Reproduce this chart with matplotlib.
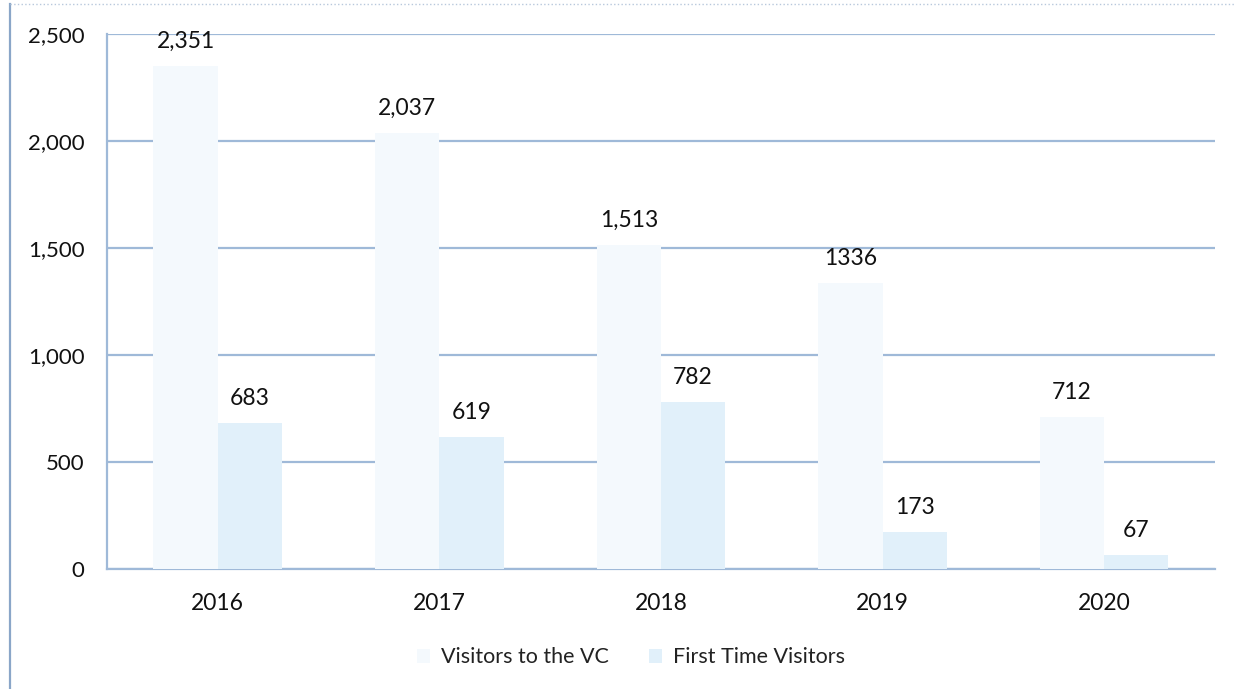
import matplotlib
matplotlib.use("Agg")
import numpy as np
from matplotlib import pyplot as plt
from matplotlib.lines import Line2D
from matplotlib.ticker import FuncFormatter

# data
years = ['2016', '2017', '2018', '2019', '2020']
visitors_vc = [2351, 2037, 1513, 1336, 712]
first_time = [683, 619, 782, 173, 67]
vc_labels = ['2,351', '2,037', '1,513', '1336', '712']
ft_labels = ['683', '619', '782', '173', '67']

plt.rcParams['font.family'] = ['Lato', 'DejaVu Sans']
txt_c = '#111111'

fig = plt.figure(figsize=(12.35, 6.89), dpi=100)
ax = fig.add_axes([0.0866, 0.1742, 0.8972, 0.7765])

x = np.arange(len(years))
w = 0.29
grid_c = '#9fb9d8'
ax.bar(x - w/2, visitors_vc, w, color='#f4f9fd', zorder=3, label='Visitors to the VC')
ax.bar(x + w/2, first_time, w, color='#e1f0fa', zorder=3, label='First Time Visitors')

for xi, v, t in zip(x, visitors_vc, vc_labels):
    ax.annotate(t, (xi - w/2, v), xytext=(0, 10), textcoords='offset points',
                ha='center', va='bottom', fontsize=16.5, color=txt_c, zorder=4)
for xi, v, t in zip(x, first_time, ft_labels):
    ax.annotate(t, (xi + w/2, v), xytext=(0, 10), textcoords='offset points',
                ha='center', va='bottom', fontsize=16.5, color=txt_c, zorder=4)

ax.set_xlim(-0.5, 4.5)
ax.set_ylim(0, 2500)
ax.set_yticks([0, 500, 1000, 1500, 2000, 2500])
ax.yaxis.set_major_formatter(FuncFormatter(lambda v, p: f'{int(v):,}'))
ax.set_xticks(x)
ax.set_xticklabels(years)
ax.yaxis.grid(True, color=grid_c, linewidth=1.6, zorder=1)
ax.set_axisbelow(True)
ax.tick_params(axis='y', length=0, pad=16, labelsize=16, colors=txt_c)
ax.tick_params(axis='x', length=0, pad=17, labelsize=16.5, colors=txt_c)
for s in ['top', 'right']:
    ax.spines[s].set_visible(False)
ax.spines['left'].set_color(grid_c)
ax.spines['left'].set_linewidth(1.6)
ax.spines['bottom'].set_color(grid_c)
ax.spines['bottom'].set_linewidth(1.6)

leg = fig.legend(loc='center', bbox_to_anchor=(0.511, 0.046), ncol=2, frameon=False,
                 fontsize=15.5, handlelength=0.6, handleheight=0.6, columnspacing=1.9,
                 handletextpad=0.5)
for t in leg.get_texts():
    t.set_color('#222222')

# scan frame edges
fig.add_artist(Line2D([0.0085, 0.0085], [0, 0.994], color='#8aa6c8', linewidth=1.6))
fig.add_artist(Line2D([0.0085, 1], [0.994, 0.994], color='#b8c8dc', linewidth=1, linestyle=':'))

fig.savefig('out.png', dpi=100)
